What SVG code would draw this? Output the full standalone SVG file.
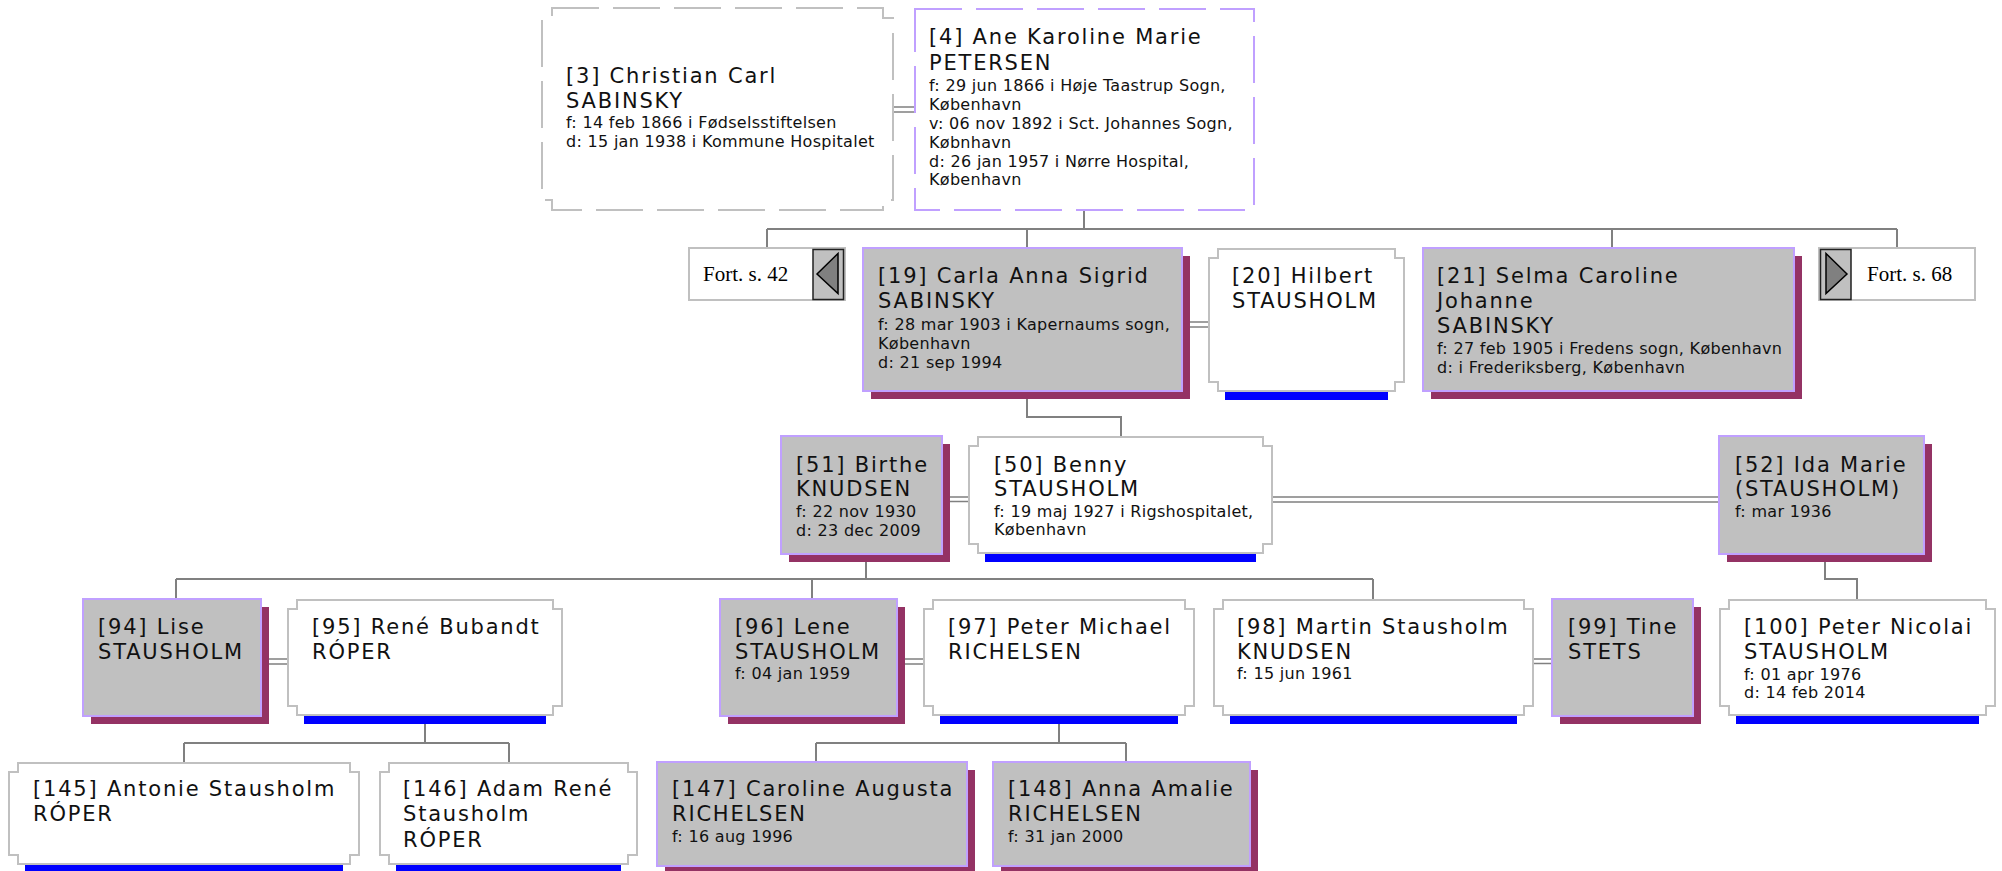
<svg xmlns="http://www.w3.org/2000/svg" width="2002" height="871" viewBox="0 0 2002 871">
<style>
.nm{font-family:"DejaVu Sans",Verdana,sans-serif;font-size:21px;letter-spacing:1.8px;fill:#111}
.sm{font-family:"DejaVu Sans",Verdana,sans-serif;font-size:16px;letter-spacing:0.3px;fill:#111}
.ft{font-family:"Liberation Serif","Times New Roman",serif;font-size:21px;fill:#000}
.f{fill:#c0c0c0;stroke:#c0a0ff;stroke-width:2}
.sh{fill:#943264}
.m{fill:#fff;stroke:#c0c0c0;stroke-width:2}
.bar{fill:#0000ff}
.ln{fill:none;stroke:#808080;stroke-width:2}
.dl{fill:none;stroke:#808080;stroke-width:1.5}
.fb{fill:#fff;stroke:#c0c0c0;stroke-width:2}
.ab{fill:#c0c0c0;stroke:#202020;stroke-width:1.5}
.tri{fill:#808080;stroke:#000;stroke-width:1.5}
</style>
<rect width="2002" height="871" fill="#fff"/>
<g id="connectors">
<path class="dl" d="M893,107H915M893,112H915"/>
<path class="ln" d="M1084,210V229M767,229H1897M767,229V248M1027,229V248M1612,229V248M1897,229V248"/>
<path class="dl" d="M1182,322H1209M1182,327H1209"/>
<path class="ln" d="M1027,391V417H1121V437"/>
<path class="dl" d="M942,497H969M942,501.5H969"/>
<path class="dl" d="M1272,497H1719M1272,502H1719"/>
<path class="ln" d="M866,554V579M176,579H1373M176,579V599M812,579V599M1373,579V600"/>
<path class="ln" d="M1825,554V579H1857V600"/>
<path class="dl" d="M261,659H288M261,664H288"/>
<path class="dl" d="M897,659H924M897,664H924"/>
<path class="dl" d="M1533,659H1552M1533,663.5H1552"/>
<path class="ln" d="M425,724V743M184,743H509M184,743V763M509,743V763"/>
<path class="ln" d="M1059,724V743M816,743H1126M816,743V762M1126,743V762"/>
</g>
<g id="n3">
<path d="M552,8H883V18H893V200H883V210H552V200H542V18H552Z" fill="#fff" stroke="#c0c0c0" stroke-width="2" stroke-dasharray="47 14"/>
<text class="nm" x="566" y="83">[3] Christian Carl</text>
<text class="nm" x="566" y="108">SABINSKY</text>
<text class="sm" x="566" y="128">f: 14 feb 1866 i Fødselsstiftelsen</text>
<text class="sm" x="566" y="147">d: 15 jan 1938 i Kommune Hospitalet</text>
</g>
<g id="n4">
<rect x="915" y="9" width="339" height="201" fill="#fff" stroke="#c0a0ff" stroke-width="2" stroke-dasharray="47 14"/>
<text class="nm" x="929" y="44">[4] Ane Karoline Marie</text>
<text class="nm" x="929" y="70">PETERSEN</text>
<text class="sm" x="929" y="91">f: 29 jun 1866 i Høje Taastrup Sogn,</text>
<text class="sm" x="929" y="110">København</text>
<text class="sm" x="929" y="129">v: 06 nov 1892 i Sct. Johannes Sogn,</text>
<text class="sm" x="929" y="148">Købnhavn</text>
<text class="sm" x="929" y="167">d: 26 jan 1957 i Nørre Hospital,</text>
<text class="sm" x="929" y="185">København</text>
</g>
<g id="fort42">
<rect class="fb" x="689" y="248" width="156" height="52"/>
<rect class="ab" x="813" y="249.5" width="30.5" height="50"/>
<path class="tri" d="M817,274L838,253.5V293.5Z"/>
<text class="ft" x="703" y="281">Fort. s. 42</text>
</g>
<g id="n19">
<rect class="sh" x="871" y="256" width="319" height="143"/>
<rect class="f" x="863" y="248" width="319" height="143"/>
<text class="nm" x="878" y="283">[19] Carla Anna Sigrid</text>
<text class="nm" x="878" y="308">SABINSKY</text>
<text class="sm" x="878" y="330">f: 28 mar 1903 i Kapernaums sogn,</text>
<text class="sm" x="878" y="349">København</text>
<text class="sm" x="878" y="368">d: 21 sep 1994</text>
</g>
<g id="n20">
<path class="m" d="M1218,249H1395V258H1404V382H1395V391H1218V382H1209V258H1218Z"/>
<rect class="bar" x="1225" y="392" width="163" height="8"/>
<text class="nm" x="1232" y="283">[20] Hilbert</text>
<text class="nm" x="1232" y="308">STAUSHOLM</text>
</g>
<g id="n21">
<rect class="sh" x="1431" y="256" width="371" height="143"/>
<rect class="f" x="1423" y="248" width="371" height="143"/>
<text class="nm" x="1437" y="283">[21] Selma Caroline</text>
<text class="nm" x="1437" y="308">Johanne</text>
<text class="nm" x="1437" y="333">SABINSKY</text>
<text class="sm" x="1437" y="354">f: 27 feb 1905 i Fredens sogn, København</text>
<text class="sm" x="1437" y="373">d: i Frederiksberg, København</text>
</g>
<g id="fort68">
<rect class="fb" x="1819" y="248" width="156" height="52"/>
<rect class="ab" x="1820.5" y="249.5" width="30.5" height="50"/>
<path class="tri" d="M1847,274L1826,253.5V293.5Z"/>
<text class="ft" x="1867" y="281">Fort. s. 68</text>
</g>
<g id="n51">
<rect class="sh" x="789" y="444" width="161" height="118"/>
<rect class="f" x="781" y="436" width="161" height="118"/>
<text class="nm" x="796" y="472">[51] Birthe</text>
<text class="nm" x="796" y="496">KNUDSEN</text>
<text class="sm" x="796" y="517">f: 22 nov 1930</text>
<text class="sm" x="796" y="536">d: 23 dec 2009</text>
</g>
<g id="n50">
<path class="m" d="M978,437H1263V446H1272V544H1263V553H978V544H969V446H978Z"/>
<rect class="bar" x="985" y="554" width="271" height="8"/>
<text class="nm" x="994" y="472">[50] Benny</text>
<text class="nm" x="994" y="496">STAUSHOLM</text>
<text class="sm" x="994" y="517">f: 19 maj 1927 i Rigshospitalet,</text>
<text class="sm" x="994" y="535">København</text>
</g>
<g id="n52">
<rect class="sh" x="1727" y="444" width="205" height="118"/>
<rect class="f" x="1719" y="436" width="205" height="118"/>
<text class="nm" x="1735" y="472">[52] Ida Marie</text>
<text class="nm" x="1735" y="496">(STAUSHOLM)</text>
<text class="sm" x="1735" y="517">f: mar 1936</text>
</g>
<g id="n94">
<rect class="sh" x="91" y="607" width="178" height="117"/>
<rect class="f" x="83" y="599" width="178" height="117"/>
<text class="nm" x="98" y="634">[94] Lise</text>
<text class="nm" x="98" y="659">STAUSHOLM</text>
</g>
<g id="n95">
<path class="m" d="M297,600H553V609H562V706H553V715H297V706H288V609H297Z"/>
<rect class="bar" x="304" y="716" width="242" height="8"/>
<text class="nm" x="312" y="634">[95] René Bubandt</text>
<text class="nm" x="312" y="659">RÓPER</text>
</g>
<g id="n96">
<rect class="sh" x="728" y="607" width="177" height="117"/>
<rect class="f" x="720" y="599" width="177" height="117"/>
<text class="nm" x="735" y="634">[96] Lene</text>
<text class="nm" x="735" y="659">STAUSHOLM</text>
<text class="sm" x="735" y="679">f: 04 jan 1959</text>
</g>
<g id="n97">
<path class="m" d="M933,600H1185V609H1194V706H1185V715H933V706H924V609H933Z"/>
<rect class="bar" x="940" y="716" width="238" height="8"/>
<text class="nm" x="948" y="634">[97] Peter Michael</text>
<text class="nm" x="948" y="659">RICHELSEN</text>
</g>
<g id="n98">
<path class="m" d="M1223,600H1524V609H1533V706H1524V715H1223V706H1214V609H1223Z"/>
<rect class="bar" x="1230" y="716" width="287" height="8"/>
<text class="nm" x="1237" y="634">[98] Martin Stausholm</text>
<text class="nm" x="1237" y="659">KNUDSEN</text>
<text class="sm" x="1237" y="679">f: 15 jun 1961</text>
</g>
<g id="n99">
<rect class="sh" x="1560" y="607" width="141" height="117"/>
<rect class="f" x="1552" y="599" width="141" height="117"/>
<text class="nm" x="1568" y="634">[99] Tine</text>
<text class="nm" x="1568" y="659">STETS</text>
</g>
<g id="n100">
<path class="m" d="M1729,600H1986V609H1995V706H1986V715H1729V706H1720V609H1729Z"/>
<rect class="bar" x="1736" y="716" width="243" height="8"/>
<text class="nm" x="1744" y="634">[100] Peter Nicolai</text>
<text class="nm" x="1744" y="659">STAUSHOLM</text>
<text class="sm" x="1744" y="680">f: 01 apr 1976</text>
<text class="sm" x="1744" y="698">d: 14 feb 2014</text>
</g>
<g id="n145">
<path class="m" d="M18,763H350V772H359V855H350V864H18V855H9V772H18Z"/>
<rect class="bar" x="25" y="865" width="318" height="8"/>
<text class="nm" x="33" y="796">[145] Antonie Stausholm</text>
<text class="nm" x="33" y="821">RÓPER</text>
</g>
<g id="n146">
<path class="m" d="M389,763H628V772H637V855H628V864H389V855H380V772H389Z"/>
<rect class="bar" x="396" y="865" width="225" height="8"/>
<text class="nm" x="403" y="796">[146] Adam René</text>
<text class="nm" x="403" y="821">Stausholm</text>
<text class="nm" x="403" y="847">RÓPER</text>
</g>
<g id="n147">
<rect class="sh" x="665" y="770" width="310" height="104"/>
<rect class="f" x="657" y="762" width="310" height="104"/>
<text class="nm" x="672" y="796">[147] Caroline Augusta</text>
<text class="nm" x="672" y="821">RICHELSEN</text>
<text class="sm" x="672" y="842">f: 16 aug 1996</text>
</g>
<g id="n148">
<rect class="sh" x="1001" y="770" width="257" height="104"/>
<rect class="f" x="993" y="762" width="257" height="104"/>
<text class="nm" x="1008" y="796">[148] Anna Amalie</text>
<text class="nm" x="1008" y="821">RICHELSEN</text>
<text class="sm" x="1008" y="842">f: 31 jan 2000</text>
</g>
</svg>
